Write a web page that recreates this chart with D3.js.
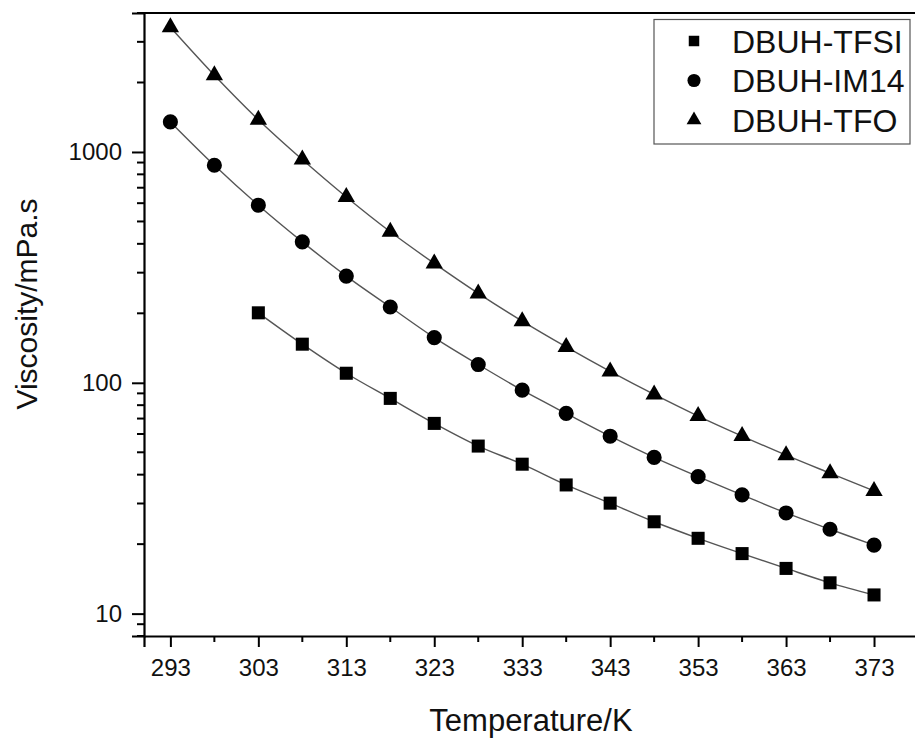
<!DOCTYPE html>
<html>
<head>
<meta charset="utf-8">
<script src="https://d3js.org/d3.v7.min.js"></script>
<style>
  body { margin: 0; background: #fff; }
  svg { display: block; font-family: "Liberation Sans", Arial, sans-serif; }
</style>
</head>
<body>
<svg id="chart" width="915" height="740"></svg>
<script>
// temperatures (K)
var tempsAll = [293, 298, 303, 308, 313, 318, 323, 328, 333, 338, 343, 348, 353, 358, 363, 368, 373];
var tempsTFSI = [303, 308, 313, 318, 323, 328, 333, 338, 343, 348, 353, 358, 363, 368, 373];

// viscosity (mPa.s)
var viscTFSI = [201, 147, 110, 85.6, 66.7, 53.2, 44.4, 36.1, 30.1, 25.0, 21.2, 18.2, 15.7, 13.6, 12.05];
var viscIM14 = [1350, 876, 588, 408, 290, 213, 157, 120, 92.9, 73.7, 58.7, 47.5, 39.2, 32.7, 27.3, 23.2, 19.8];
var viscTFO = [3470, 2150, 1380, 927, 638, 451, 329, 244, 185, 143, 112, 89, 71.8, 58.8, 48.6, 40.6, 34.0];

var xTicks = [293, 303, 313, 323, 333, 343, 353, 363, 373];
var xMinor = [298, 308, 318, 328, 338, 348, 358, 368];
var yTicks = [10, 100, 1000];

var series = [
  { name: "DBUH-TFSI", temps: tempsTFSI, vals: viscTFSI, sym: d3.symbolSquare },
  { name: "DBUH-IM14", temps: tempsAll, vals: viscIM14, sym: d3.symbolCircle },
  { name: "DBUH-TFO", temps: tempsAll, vals: viscTFO, sym: d3.symbolTriangle }
];

var svg = d3.select("#chart");
var plotL = 144, plotR = 918, plotT = 13, plotB = 636;

var x = d3.scaleLinear().domain([290, 378]).range([plotL, plotR]);
var y = d3.scaleLog().domain([8, 4000]).range([plotB, plotT]);

// minor y ticks
var yMinor = [];
[1, 10, 100, 1000].forEach(function(d) {
  for (var k = 2; k <= 9; k++) {
    var v = d * k;
    if (v >= 8 && v <= 4000) yMinor.push(v);
  }
});

// lines
var line = d3.line()
  .x(function(d) { return x(d[0]); })
  .y(function(d) { return y(d[1]); })
  .curve(d3.curveCatmullRom);

var symSize = { "DBUH-TFSI": 170, "DBUH-IM14": 180, "DBUH-TFO": 130 };

series.forEach(function(s) {
  var pts = s.temps.map(function(t, i) { return [t, s.vals[i]]; });
  svg.append("path")
    .datum(pts)
    .attr("d", line)
    .attr("fill", "none")
    .attr("stroke", "#555")
    .attr("stroke-width", 1.4);
  svg.selectAll(null)
    .data(pts)
    .enter().append("path")
    .attr("transform", function(d) { return "translate(" + x(d[0]) + "," + y(d[1]) + ")"; })
    .attr("d", d3.symbol().type(s.sym).size(symSize[s.name]))
    .attr("fill", "#000");
});

// axes
var xAxis = svg.append("g").attr("transform", "translate(0," + plotB + ")");
xAxis.call(d3.axisBottom(x).tickValues(xTicks).tickSize(11).tickPadding(12).tickFormat(d3.format("d")));
xAxis.selectAll(".tick line").attr("stroke-width", 2);
xAxis.select(".domain").attr("stroke-width", 2.2);
xAxis.selectAll(".tick text").attr("font-size", 24).attr("fill", "#111").attr("font-family", "Liberation Sans, Arial, sans-serif");
xAxis.selectAll(".minor")
  .data(xMinor)
  .enter().append("line")
  .attr("x1", function(d) { return x(d); })
  .attr("x2", function(d) { return x(d); })
  .attr("y1", 0).attr("y2", 6)
  .attr("stroke", "#000").attr("stroke-width", 2);

var yAxis = svg.append("g").attr("transform", "translate(" + plotL + ",0)");
yAxis.call(d3.axisLeft(y).tickValues(yTicks).tickSize(12).tickPadding(10).tickFormat(d3.format("d")));
yAxis.selectAll(".tick line").attr("stroke-width", 2);
yAxis.select(".domain").attr("stroke-width", 2.2);
yAxis.selectAll(".tick text").attr("font-size", 24).attr("fill", "#111").attr("font-family", "Liberation Sans, Arial, sans-serif");
yAxis.selectAll(".minor")
  .data(yMinor)
  .enter().append("line")
  .attr("x1", -7).attr("x2", 0)
  .attr("y1", function(d) { return y(d); })
  .attr("y2", function(d) { return y(d); })
  .attr("stroke", "#000").attr("stroke-width", 2);

// top border
svg.append("line")
  .attr("x1", plotL).attr("x2", plotR)
  .attr("y1", plotT).attr("y2", plotT)
  .attr("stroke", "#000").attr("stroke-width", 2.2);

// axis titles
svg.append("text")
  .attr("x", 531).attr("y", 731)
  .attr("text-anchor", "middle")
  .attr("font-size", 31)
  .attr("fill", "#111")
  .text("Temperature/K");

svg.append("text")
  .attr("transform", "translate(37,304) rotate(-90)")
  .attr("text-anchor", "middle")
  .attr("font-size", 30)
  .attr("fill", "#111")
  .text("Viscosity/mPa.s");

// legend
var legend = svg.append("g");
legend.append("rect")
  .attr("x", 654).attr("y", 19.5)
  .attr("width", 256).attr("height", 124.5)
  .attr("fill", "#fff")
  .attr("stroke", "#555").attr("stroke-width", 1.2);
var legSize = { "DBUH-TFSI": 110, "DBUH-IM14": 135, "DBUH-TFO": 95 };
series.forEach(function(s, i) {
  var cy = 41 + i * 39.5;
  legend.append("path")
    .attr("transform", "translate(694," + cy + ")")
    .attr("d", d3.symbol().type(s.sym).size(legSize[s.name]))
    .attr("fill", "#000");
  legend.append("text")
    .attr("x", 732).attr("y", cy + 11.5)
    .attr("font-size", 32)
    .attr("fill", "#111")
    .text(s.name);
});
</script>
</body>
</html>
